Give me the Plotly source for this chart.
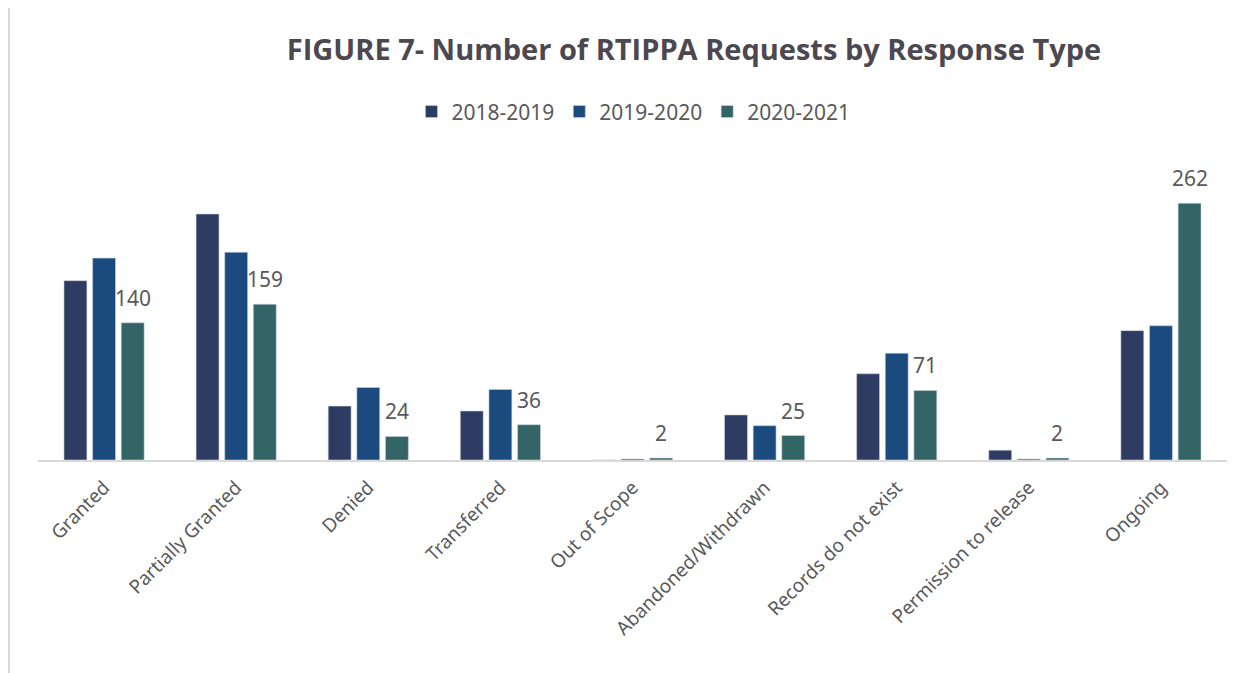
import plotly.graph_objects as go

categories = ['Granted', 'Partially Granted', 'Denied', 'Transferred', 'Out of Scope',
              'Abandoned/Withdrawn', 'Records do not exist', 'Permission to release', 'Ongoing']

fy_2018_2019 = [183, 251, 55, 50, 0, 46, 88, 10, 132]
fy_2019_2020 = [206, 212, 74, 72, 1, 35, 109, 1, 137]
fy_2020_2021 = [140, 159, 24, 36, 2, 25, 71, 2, 262]

series = [
    ('2018-2019', fy_2018_2019, '#2E3B62'),
    ('2019-2020', fy_2019_2020, '#1B4A7E'),
    ('2020-2021', fy_2020_2021, '#336466'),
]

text_color = '#595959'

fig = go.Figure()
for name, vals, color in series:
    fig.add_trace(go.Bar(
        x=categories,
        y=vals,
        name=name,
        marker=dict(color=color, line=dict(color='#c9d3dc', width=0.6)),
    ))

# value labels on the latest year only, sitting a little above the third bar
slot_px = 1189 / 9 * (1 - 0.35) / 3
for cat, v in zip(categories, fy_2020_2021):
    fig.add_annotation(
        x=cat, y=v, xref='x', yref='y',
        text=str(v), showarrow=False,
        xshift=slot_px, yshift=9, yanchor='bottom',
        font=dict(size=21, color=text_color),
    )

# the page puts the figure 8px in from the top-left corner
fig.update_layout(
    width=1253,
    height=673,
    paper_bgcolor='white',
    plot_bgcolor='white',
    font=dict(family='Noto Sans', color=text_color),
    title=dict(
        text='<b>FIGURE 7- Number of RTIPPA Requests by Response Type</b>',
        font=dict(family='Open Sans', size=29, color='#4d4850'),
        x=0.5475, xanchor='center',
        y=0.9376, yanchor='middle',
    ),
    legend=dict(
        orientation='h',
        x=0.5008, xanchor='center',
        y=1.184, yanchor='middle',
        font=dict(size=21, color=text_color),
        traceorder='normal',
    ),
    barmode='group',
    bargap=0.35,
    bargroupgap=0.2,
    margin=dict(l=30, r=34, t=158, b=221),
    showlegend=True,
)

fig.update_xaxes(
    tickangle=-45,
    tickfont=dict(size=19, color=text_color),
    showline=True,
    linecolor='#d9d9d9',
    linewidth=2,
    ticks='outside',
    ticklen=7,
    tickcolor='rgba(0,0,0,0)',
)
fig.update_yaxes(
    range=[0, 300],
    visible=False,
    showgrid=False,
)

# faint chart border on the left edge
fig.add_shape(
    type='line', xref='paper', yref='paper',
    x0=-29 / 1189, x1=-29 / 1189, y0=-221 / 294, y1=1 + 158 / 294,
    line=dict(color='#d9d9d9', width=2),
)

fig.write_html('out.html')
